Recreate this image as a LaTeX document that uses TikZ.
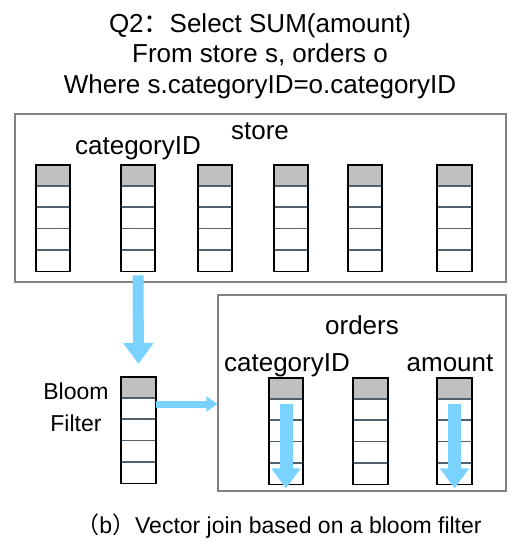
\documentclass[tikz,border=0pt]{standalone}
\usepackage{fontspec}
\setmainfont{Liberation Sans}
\newfontfamily\cjk{Noto Sans CJK SC}
\usetikzlibrary{arrows.meta, positioning}

\definecolor{flowblue}{RGB}{122,211,255}
\definecolor{cellline}{RGB}{80,96,108}
\definecolor{hdrgray}{RGB}{192,192,192}
\definecolor{boxgray}{RGB}{130,130,130}

% one column vector: grey header + four cells
\newcommand{\vecCells}[1]{
	\fill[hdrgray] (#1.north west) rectangle ([yshift=-21pt]#1.north east);
	\foreach \k in {0, 1, 2, 3} {
			\draw[cellline, line width=1.8pt] ([yshift={-21pt-21.25pt*\k}]#1.north west) -- ([yshift={-21pt-21.25pt*\k}]#1.north east);
		}
	\draw[black, line width=1.8pt] (#1.north west) rectangle (#1.south east);
}

\begin{document}
\begin{tikzpicture}[x=1pt, y=-1pt]
	\tikzstyle {txt} = [inner sep=0pt, anchor=base, font=\fontsize{26}{31}\selectfont];
	\tikzstyle {vec} = [inner sep=0pt, minimum width=34pt, minimum height=106pt, anchor=north];
	\tikzstyle {tablebox} = [draw=boxgray, line width=1.2pt, inner sep=0pt];
	\tikzstyle {bigflow} = [draw=flowblue, line width=11pt, -{Triangle[width=29pt, length=21pt]}];
	\tikzstyle {colflow} = [draw=flowblue, line width=13pt, -{Triangle[width=28pt, length=20pt]}];
	\tikzstyle {sideflow} = [draw=flowblue, line width=7pt, -{Triangle[width=15pt, length=11pt]}];
	\useasboundingbox (0, 0) rectangle (520, 553);

	% query
	\node[txt] (q2a) at (260, 33) {Q2{\cjk ：}Select SUM(amount)};
	\node[txt] (q2b) at (260, 63) {From store s, orders o};
	\node[txt] (q2c) at (260, 94) {Where s.categoryID=o.categoryID};

	% store table
	\node[tablebox, minimum width=491pt, minimum height=168pt] (store) at (260.5, 198) {};
	\node[txt] (storename) at (260, 140) {store};
	\foreach \n/\x in {1/53, 2/138, 3/215, 4/291, 5/365, 6/454.5} {
			\node[vec] (s\n) at (\x, 165) {};
			\vecCells{s\n}
		}
	\node[txt] (storecat) at ([yshift=10pt]s2.north) {categoryID};

	% bloom filter
	\node[vec] (bloom) at (138.5, 377) {};
	\vecCells{bloom}
	\node[txt, font=\fontsize{23}{28}\selectfont] (bloomA) at (76, 399) {Bloom};
	\node[txt, font=\fontsize{23}{28}\selectfont] (bloomB) at (76, 431) {Filter};

	% orders table
	\node[tablebox, minimum width=288pt, minimum height=196pt] (orders) at (362, 393) {};
	\node[txt] (ordersname) at (362, 334) {orders};
	\foreach \n/\x in {a/286, b/370.5, c/454.5} {
			\node[vec] (o\n) at (\x, 378) {};
			\vecCells{o\n}
		}
	\node[txt] (ordcat) at (287, 371) {categoryID};
	\node[txt] (ordamt) at (450, 371) {amount};

	% data flow
	\draw[bigflow] ([yshift=-4pt]s2.south) -- ([yshift=13pt]bloom.north);
	\coordinate (bfout) at ([yshift=-27pt]bloom.north east);
	\draw[sideflow] (bfout) -- (bfout -| orders.west);
	\foreach \n in {a, c} {
			\draw[colflow] ([yshift=-26pt]o\n.north) -- ([yshift=-4pt]o\n.south);
		}

	\node[txt, font=\fontsize{23}{28}\selectfont] (caption) at (279, 533) {{\cjk （}b{\cjk ）}Vector join based on a bloom filter};
\end{tikzpicture}
\end{document}
